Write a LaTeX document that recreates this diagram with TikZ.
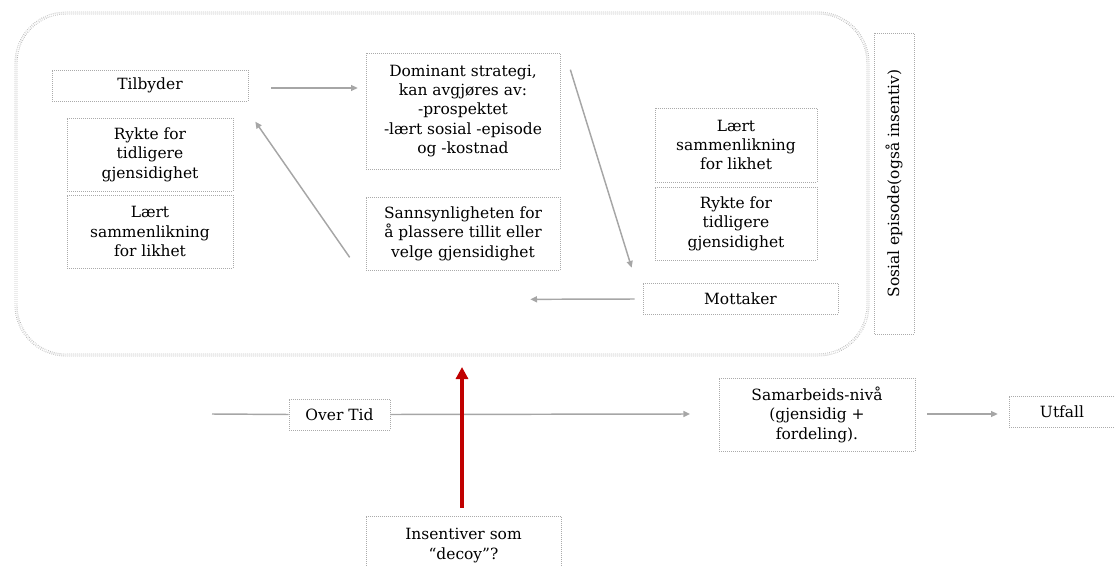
\documentclass[tikz,border=0pt]{standalone}
\usepackage{fontspec}
\setmainfont{DejaVu Serif}
\usetikzlibrary{arrows.meta,calc}
\definecolor{boxgray}{RGB}{170,170,170}
\definecolor{arrgray}{RGB}{166,166,166}
\definecolor{darkred}{RGB}{192,0,0}
\begin{document}
\begin{tikzpicture}[x=0.75pt,y=-0.75pt,
  every node/.style={font=\fontsize{11.6}{14.6}\selectfont},
  bx/.style={draw=boxgray, densely dotted, line width=0.5pt, align=center, inner sep=0pt},
  garr/.style={draw=arrgray, line width=1.1pt, -{Triangle[length=5pt,width=4.5pt]}},
  gline/.style={draw=arrgray, line width=1.1pt},
  redarr/.style={draw=darkred, line width=2.6pt, -{Triangle[length=9pt,width=9pt]}}]
\useasboundingbox (0,0) rectangle (1115,567);
% big rounded container
\draw[draw=boxgray, densely dotted, line width=0.5pt, double=white, double distance=1.2pt, rounded corners=37.5pt] (16,13) rectangle (868,355);

\node[bx, minimum width=147pt, minimum height=23.25pt] (tilb) at (150,85.5) {Tilbyder};
\node[bx, minimum width=124.5pt, minimum height=54.75pt] (ryktL) at (150,154.5) {Rykte for\\tidligere\\gjensidighet};
\node[bx, minimum width=124.5pt, minimum height=54.75pt] (laertL) at (150,231.5) {Lært\\sammenlikning\\for likhet};
\node[bx, minimum width=145.5pt, minimum height=87pt] (dom) at (463,111) {Dominant strategi,\\kan avgjøres av:\\-prospektet\\-lært sosial -episode\\og -kostnad};
\node[bx, minimum width=145.5pt, minimum height=54.75pt] (sann) at (463,233.5) {Sannsynligheten for\\å plassere tillit eller\\velge gjensidighet};
\node[bx, minimum width=121.5pt, minimum height=55.5pt] (laertR) at (736,145) {Lært\\sammenlikning\\for likhet};
\node[bx, minimum width=121.5pt, minimum height=54.75pt] (ryktR) at (736,223.5) {Rykte for\\tidligere\\gjensidighet};
\node[bx, minimum width=146.25pt, minimum height=23.25pt] (mott) at (740.5,298.5) {Mottaker};
\node[bx, rotate=90, minimum width=225.75pt, minimum height=30pt] (sos) at (894,183.5) {Sosial episode(også insentiv)};
\node[bx, minimum width=75.75pt, minimum height=23.25pt] (over) at (339.5,414.5) {Over Tid};
\node[bx, minimum width=147pt, minimum height=54.75pt] (samb) at (817,414.5) {Samarbeids-nivå\\(gjensidig +\\fordeling).};
\node[bx, minimum width=79.5pt, minimum height=23.25pt] (utf) at (1062,411.5) {Utfall};
\node[bx, minimum width=146.25pt, minimum height=44.25pt] (ins) at (463.5,545.5) {Insentiver som\\“decoy”?};

\coordinate (tstart) at (212,414);
\coordinate (tend) at (690,414);
\coordinate (redtip) at (462,367);

\draw[garr] ($(tilb.east)+(23,2.5)$) -- ($(dom.west)+(-8,-23)$);
\draw[garr] ($(dom.north east)+(10,17)$) -- ($(mott.north west)+(-11,-15)$);
\draw[garr] ($(mott.west)+(-8,0.5)$) -- ($(sann.south east)+(-30,29)$);
\draw[garr] ($(sann.south west)+(-16,-13)$) -- ($(ryktL.north east)+(22,4)$);
\draw[gline] (tstart) -- (over.west);
\draw[garr] (over.east) -- (tend);
\draw[garr] ($(samb.east)+(12,-0.5)$) -- ($(utf.west)+(-11,2.5)$);
\draw[redarr] ($(ins.north)+(-1.5,-8)$) -- (redtip);
\end{tikzpicture}
\end{document}
